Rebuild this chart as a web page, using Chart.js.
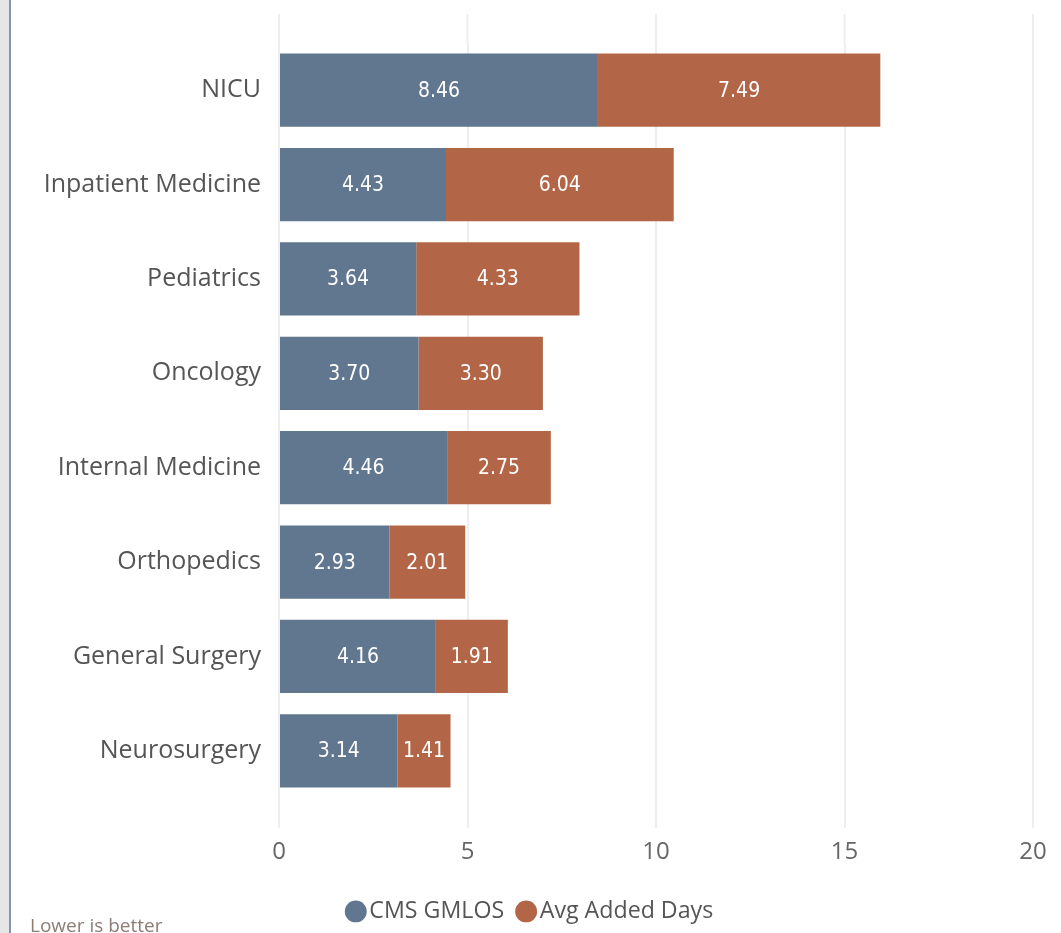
<!DOCTYPE html>
<html>
<head>
<meta charset="utf-8">
<script src="https://cdn.jsdelivr.net/npm/chart.js@4.4.0/dist/chart.umd.min.js"></script>
<style>
  html, body { margin: 0; padding: 0; background: #fff; overflow: hidden; width: 1061px; height: 933px; }
  #strip { position: absolute; left: 0; top: 0; width: 9px; height: 933px; background: #e6e6e6; }
  #edge { position: absolute; left: 9px; top: 0; width: 2px; height: 933px; background: #8396ad; }
  #wrap { position: absolute; left: 12px; top: 0; width: 1049px; height: 939px; }
  #note { position: absolute; left: 30px; top: 912px; font: 19px "Segoe UI", "Open Sans", sans-serif; color: #8c7d75; }
</style>
</head>
<body>
<div id="strip"></div>
<div id="edge"></div>
<div id="wrap"><canvas id="losChart"></canvas></div>
<div id="note">Lower is better</div>
<script>
const categories = ['NICU', 'Inpatient Medicine', 'Pediatrics', 'Oncology', 'Internal Medicine', 'Orthopedics', 'General Surgery', 'Neurosurgery'];
const cmsGmlos = [8.46, 4.43, 3.64, 3.70, 4.46, 2.93, 4.16, 3.14];
const avgAddedDays = [7.49, 6.04, 4.33, 3.30, 2.75, 2.01, 1.91, 1.41];
const xTicks = [0, 5, 10, 15, 20];

const fontFamily = '"Segoe UI", "Open Sans", sans-serif';

// white value labels in the middle of each segment
const barLabels = {
    id: 'barLabels',
    afterDatasetsDraw(chart) {
        const ctx = chart.ctx;
        ctx.save();
        ctx.fillStyle = '#ffffff';
        ctx.font = '500 21px "DejaVu Sans", sans-serif';
        ctx.fontStretch = 'condensed';
        ctx.textAlign = 'center';
        ctx.textBaseline = 'middle';
        chart.data.datasets.forEach((ds, i) => {
            chart.getDatasetMeta(i).data.forEach((bar, j) => {
                const p = bar.getProps(['x', 'y', 'base'], true);
                ctx.fillText(ds.data[j].toFixed(2), (p.x + p.base) / 2, p.y + 1);
            });
        });
        ctx.restore();
    }
};

// grid lines reach a bit above the plot area
const gridTop = {
    id: 'gridTop',
    beforeDatasetsDraw(chart) {
        const ctx = chart.ctx;
        const xs = chart.scales.x;
        ctx.save();
        ctx.strokeStyle = '#eeeeee';
        ctx.lineWidth = 2;
        xs.ticks.forEach(t => {
            const px = xs.getPixelForValue(t.value);
            ctx.beginPath();
            ctx.moveTo(px, 14);
            ctx.lineTo(px, chart.chartArea.top);
            ctx.stroke();
        });
        ctx.restore();
    }
};

const ctx = document.getElementById('losChart').getContext('2d');
new Chart(ctx, {
    type: 'bar',
    data: {
        labels: categories,
        datasets: [{
            label: 'CMS GMLOS',
            data: cmsGmlos,
            backgroundColor: '#61768f',
            barPercentage: 0.775,
            categoryPercentage: 1
        }, {
            label: 'Avg Added Days',
            data: avgAddedDays,
            backgroundColor: '#b36647',
            barPercentage: 0.775,
            categoryPercentage: 1
        }]
    },
    options: {
        indexAxis: 'y',
        responsive: true,
        maintainAspectRatio: false,
        animation: false,
        layout: { padding: { top: 43, right: 28, left: 22, bottom: 6 } },
        scales: {
            x: {
                stacked: true,
                min: 0,
                max: 20,
                afterBuildTicks: axis => { axis.ticks = xTicks.map(v => ({ value: v })); },
                afterFit: axis => { axis.height += 3; },
                border: { display: false },
                grid: { color: '#eeeeee', lineWidth: 2, tickLength: 30 },
                ticks: { color: '#666666', padding: 10, font: { family: fontFamily, size: 24 } }
            },
            y: {
                stacked: true,
                border: { display: false },
                grid: { display: false },
                afterFit: axis => { axis.width = 245; },
                ticks: { color: '#555555', padding: 10, font: { family: fontFamily, size: 25 } }
            }
        },
        plugins: {
            tooltip: { enabled: false },
            legend: {
                position: 'bottom',
                labels: {
                    usePointStyle: true,
                    pointStyle: 'circle',
                    boxHeight: 15.5,
                    boxWidth: 4,
                    padding: 20,
                    color: '#555555',
                    font: { family: fontFamily, size: 23.2 }
                }
            }
        }
    },
    plugins: [barLabels, gridTop]
});
</script>
</body>
</html>
